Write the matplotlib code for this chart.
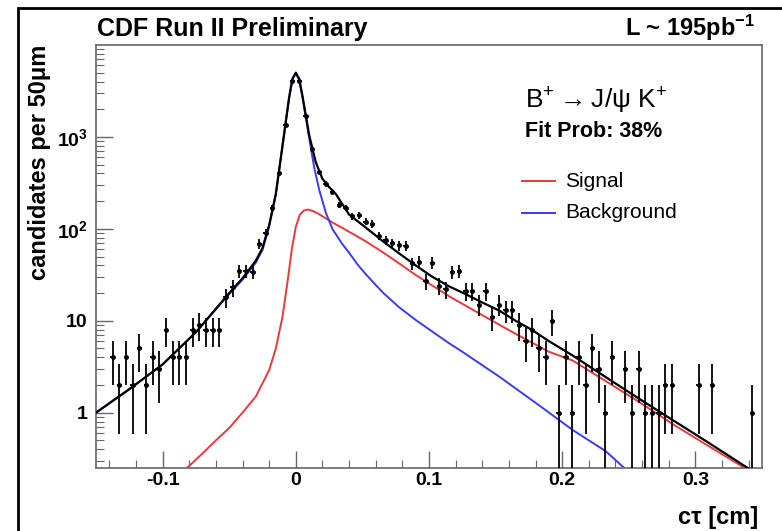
import numpy as np
import matplotlib.pyplot as plt
from matplotlib.patches import Rectangle
from matplotlib.ticker import FixedLocator, FixedFormatter

plt.rcParams['font.family'] = ['Liberation Sans', 'DejaVu Sans']
plt.rcParams['mathtext.fontset'] = 'custom'
plt.rcParams['mathtext.rm'] = 'Liberation Sans'
plt.rcParams['mathtext.bf'] = 'Liberation Sans:bold'
plt.rcParams['mathtext.default'] = 'regular'

# data: bin centres (cm) and candidates per 50 um (empty bins left out)
ct_bins = [-0.1375, -0.1325, -0.1275, -0.1225, -0.1175, -0.1125, -0.1075, -0.1025,
           -0.0975, -0.0925, -0.0875, -0.0825, -0.0775, -0.0725, -0.0675, -0.0625,
           -0.0575, -0.0525, -0.0475, -0.0425, -0.0375, -0.0325, -0.0275, -0.0225,
           -0.0175, -0.0125, -0.0075, -0.0025, 0.0025, 0.0075, 0.0125, 0.0175,
           0.0225, 0.0275, 0.0325, 0.0375, 0.0425, 0.0475, 0.0525, 0.0575,
           0.0625, 0.0675, 0.0725, 0.0775, 0.0825, 0.0875, 0.0925, 0.0975,
           0.1025, 0.1075, 0.1125, 0.1175, 0.1225, 0.1275, 0.1325, 0.1375,
           0.1425, 0.1475, 0.1525, 0.1575, 0.1625, 0.1675, 0.1725, 0.1775,
           0.1825, 0.1875, 0.1925, 0.1975, 0.2025, 0.2075, 0.2125, 0.2175,
           0.2225, 0.2275, 0.2325, 0.2375, 0.2475, 0.2525, 0.2575, 0.2625,
           0.2675, 0.2725, 0.2775, 0.2825, 0.3025, 0.3125, 0.3425]
counts = [4, 2, 4, 2, 5, 2, 4, 3,
          8, 4, 4, 4, 8, 9, 8, 8,
          8, 18, 23, 35, 35, 34, 69, 91,
          169, 404, 1350, 4070, 4070, 1700, 733, 414,
          310, 253, 182, 169, 137, 140, 120, 114,
          84, 75, 70, 66, 65, 42, 44, 27,
          43, 24, 22, 34, 35, 21, 21, 15,
          21, 11, 15, 13, 13, 9, 6, 8,
          5, 4, 10, 1, 4, 1, 4, 2,
          5, 3, 1, 4, 3, 1, 3, 1,
          1, 1, 2, 2, 2, 2, 1]

# fit curves
total_x = [-0.15, -0.125, -0.1, -0.075, -0.05, -0.04, -0.03, -0.025, -0.02, -0.015,
           -0.01, -0.005, -0.0025, 0.0, 0.0025, 0.005, 0.01, 0.015, 0.02, 0.025,
           0.03, 0.04, 0.0526, 0.065, 0.0776, 0.09, 0.1026, 0.115, 0.1277, 0.14,
           0.1527, 0.165, 0.1776, 0.19, 0.2077, 0.2328, 0.258, 0.283, 0.308, 0.338, 0.35]
total_y = [1.0, 1.8, 3.35, 7.5, 20, 29, 45, 62, 110, 240,
           800, 2700, 4300, 5000, 4300, 2800, 1050, 530, 350, 285,
           240, 143, 103, 74, 54, 40, 30, 23.7, 19.4, 15.8,
           12.9, 10, 7.9, 6.0, 4.2, 2.43, 1.41, 0.83, 0.49, 0.257, 0.2]

signal_x = [-0.0817, -0.07, -0.06, -0.05, -0.04, -0.03, -0.02, -0.015, -0.01, -0.006,
            -0.003, 0.0, 0.003, 0.006, 0.009, 0.013, 0.0176, 0.0276, 0.04, 0.0526,
            0.065, 0.0776, 0.09, 0.115, 0.14, 0.165, 0.19, 0.2077, 0.2328, 0.258,
            0.283, 0.308, 0.337]
signal_y = [0.25, 0.36, 0.5, 0.68, 1.0, 1.5, 2.9, 5.0, 11, 28,
            60, 105, 142, 158, 162, 156, 144, 117, 93, 73,
            56, 42, 31.5, 18.5, 11.5, 7.2, 4.6, 3.7, 2.2, 1.3,
            0.75, 0.45, 0.25]

bkg_x = [-0.15, -0.125, -0.1, -0.075, -0.05, -0.04, -0.03, -0.025, -0.02, -0.015,
         -0.01, -0.005, -0.0025, 0.0, 0.0025, 0.005, 0.0113, 0.0138, 0.0176, 0.0226,
         0.0276, 0.035, 0.04, 0.0463, 0.0526, 0.065, 0.0776, 0.09, 0.1026, 0.115,
         0.125, 0.153, 0.1827, 0.2077, 0.2328, 0.2466]
bkg_y = [1.0, 1.8, 3.35, 7.5, 19.5, 28, 43, 59, 106, 235,
         790, 2660, 4250, 4900, 4200, 2700, 760, 466, 265, 149,
         99, 68, 55, 41, 32, 20.5, 14, 10.2, 7.6, 5.7,
         4.6, 2.45, 1.2, 0.65, 0.38, 0.25]

fig = plt.figure(figsize=(7.82, 5.31), dpi=100)
ax = fig.add_axes([96 / 782, 63 / 531, 666 / 782, 423 / 531])

n = np.array(counts, dtype=float)
err_hi = np.sqrt(n)
err_lo = n - np.maximum(n - np.sqrt(n), 1e-3)
ax.errorbar(ct_bins, n, yerr=[err_lo, err_hi], xerr=0.0018, fmt='o', ms=2.5,
            color='black', ecolor='black', elinewidth=1.3, capsize=0, zorder=3)

ax.plot(signal_x, signal_y, color='#e8393c', lw=1.4, zorder=2)
ax.plot(bkg_x, bkg_y, color='#3b3bf0', lw=1.4, zorder=2)
ax.plot(total_x, total_y, color='black', lw=1.6, zorder=4)

ax.set_yscale('log')
ax.set_xlim(-0.15, 0.35)
ax.set_ylim(0.25, 1e4)

frame_col = '#666666'
for s in ax.spines.values():
    s.set_color(frame_col)
    s.set_linewidth(1.2)

ax.xaxis.set_major_locator(FixedLocator([-0.1, 0, 0.1, 0.2, 0.3]))
ax.xaxis.set_major_formatter(FixedFormatter(['-0.1', '0', '0.1', '0.2', '0.3']))
ax.xaxis.set_minor_locator(FixedLocator(np.arange(-0.14, 0.35, 0.02)))
ax.yaxis.set_major_locator(FixedLocator([1, 10, 100, 1000]))
ax.yaxis.set_major_formatter(FixedFormatter(['1', '10', r'$\mathbf{10^{2}}$', r'$\mathbf{10^{3}}$']))
ax.yaxis.set_minor_locator(FixedLocator([k * 10.0 ** e for e in range(-1, 4) for k in range(2, 10)]))
ax.tick_params(which='both', direction='in', color=frame_col, top=False, right=False)
ax.tick_params(which='major', length=12, width=1.0, labelsize=14)
ax.tick_params(axis='x', which='major', pad=3)
ax.tick_params(axis='y', which='major', pad=6)
ax.tick_params(which='minor', length=6, width=0.8)
for lab in ax.get_xticklabels() + ax.get_yticklabels():
    lab.set_fontweight('bold')

fig.text(40 / 782, 1 - 45 / 531, u'candidates per 50\u03bcm', fontsize=17, fontweight='bold',
         rotation=90, ha='center', va='top')
fig.text(758 / 782, 1 - 524 / 531, u'c\u03c4 [cm]', fontsize=17, fontweight='bold',
         ha='right', va='baseline')

fig.text(97 / 782, 1 - 36 / 531, 'CDF Run II Preliminary', fontsize=18, fontweight='bold', va='baseline')
fig.text(755 / 782, 1 - 36 / 531, 'L ~ 195pb$^{-1}$', fontsize=17, fontweight='bold',
         ha='right', va='baseline')

ax.text(0.644, 0.851, r'B$^{+}$$\rightarrow$J/$\psi$ K$^{+}$', transform=ax.transAxes, fontsize=19,
        va='baseline')
ax.text(0.644, 0.782, 'Fit Prob: 38%', transform=ax.transAxes, fontsize=15.5, fontweight='bold',
        va='baseline')
ax.plot([0.639, 0.689], [0.678, 0.678], color='#e8393c', lw=1.4, transform=ax.transAxes)
ax.text(0.704, 0.678, 'Signal', transform=ax.transAxes, fontsize=15, va='center')
ax.plot([0.639, 0.689], [0.603, 0.603], color='#3b3bf0', lw=1.4, transform=ax.transAxes)
ax.text(0.704, 0.603, 'Background', transform=ax.transAxes, fontsize=15, va='center')

# outer black frame of the canvas
fig.patches.append(Rectangle((18 / 782, -0.01), 1.0, 1 - 8 / 531 + 0.01, transform=fig.transFigure,
                             fill=False, edgecolor='black', lw=2))

fig.savefig('out.png', dpi=100)
